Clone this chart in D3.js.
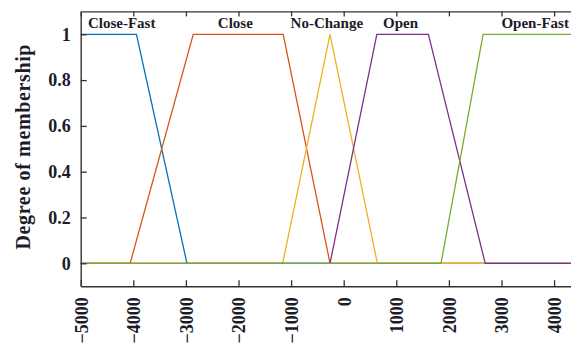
<!DOCTYPE html>
<html>
<head>
<meta charset="utf-8">
<script src="https://cdn.jsdelivr.net/npm/d3@7"></script>
<style>
  body { margin: 0; background: #fff; }
  text { font-family: "Liberation Serif", "DejaVu Serif", serif; font-weight: bold; fill: #1c1c28; }
</style>
</head>
<body>
<div class="chart"></div>
<script>
// membership functions (breakpoints along the x axis)
const names = ["Close-Fast", "Close", "No-Change", "Open", "Open-Fast"];
const closeFast = [[-5000, 1], [-3940, 1], [-2980, 0], [5000, 0]];
const close = [[-5000, 0], [-4060, 0], [-2860, 1], [-1150, 1], [-260, 0], [5000, 0]];
const noChange = [[-5000, 0], [-1160, 0], [-260, 1], [640, 0], [5000, 0]];
const open = [[-5000, 0], [-260, 0], [630, 1], [1610, 1], [2690, 0], [5000, 0]];
const openFast = [[-5000, 0], [1850, 0], [2650, 1], [5000, 1]];
const series = [closeFast, close, noChange, open, openFast];
const colors = ["#0072BD", "#D95319", "#EDB120", "#7E2F8E", "#77AC30"];
// where the name of each set is written (x in data units)
const labelAt = [-4220, -2060, -320, 1080, 3640];
const xTicks = [-5000, -4000, -3000, -2000, -1000, 0, 1000, 2000, 3000, 4000];
const yTicks = [0, 0.2, 0.4, 0.6, 0.8, 1];

const W = 571, H = 347;
const svg = d3.select(".chart").append("svg")
  .attr("width", W).attr("height", H);

const x = d3.scaleLinear().domain([-5000, 5000]).range([80.7, 606.7]);
const y = d3.scaleLinear().domain([-0.1, 1.1]).range([286.2, 11.4]);

svg.append("clipPath").attr("id", "plot")
  .append("rect")
  .attr("x", x(-5000)).attr("y", y(1.1))
  .attr("width", x(5000) - x(-5000)).attr("height", y(-0.1) - y(1.1));

// curves
const line = d3.line().x(d => x(d[0])).y(d => y(d[1]));
svg.append("g").attr("clip-path", "url(#plot)")
  .selectAll("path")
  .data(series)
  .enter()
  .append("path")
  .attr("d", line)
  .attr("fill", "none")
  .attr("stroke", (d, i) => colors[i])
  .attr("stroke-width", 1.3);

// axes
const axisColor = "#333";
const fmt = d3.format("~g");

const gx = svg.append("g")
  .attr("transform", "translate(0," + y(-0.1) + ")")
  .call(d3.axisBottom(x).tickValues(xTicks).tickSizeInner(-6).tickSizeOuter(0).tickPadding(11).tickFormat(fmt));
gx.selectAll("text")
  .attr("transform", "rotate(-90)")
  .attr("text-anchor", "end")
  .attr("x", -11)
  .attr("y", 0)
  .attr("dy", "0.35em")
  .style("font-size", "18px");

const gtop = svg.append("g")
  .attr("transform", "translate(0," + y(1.1) + ")")
  .call(d3.axisTop(x).tickValues(xTicks).tickSizeInner(-5).tickSizeOuter(0).tickFormat(""));

const gy = svg.append("g")
  .attr("transform", "translate(" + x(-5000) + ",0)")
  .call(d3.axisLeft(y).tickValues(yTicks).tickSizeInner(-6).tickSizeOuter(0).tickPadding(10).tickFormat(fmt));
gy.selectAll("text").style("font-size", "18px");

[gx, gtop, gy].forEach(g => {
  g.select(".domain").attr("stroke", axisColor).attr("stroke-width", 1.4);
  g.selectAll(".tick line").attr("stroke", axisColor).attr("stroke-width", 1.3);
  g.selectAll("text").style("font-family", null).style("fill", "#1c1c28");
});

// y axis title
svg.append("text")
  .attr("transform", "translate(30," + 147 + ") rotate(-90)")
  .attr("text-anchor", "middle")
  .attr("textLength", 205)
  .attr("lengthAdjust", "spacing")
  .style("font-size", "20px")
  .text("Degree of membership");

// set names
svg.append("g")
  .selectAll("text")
  .data(names)
  .enter()
  .append("text")
  .attr("x", (d, i) => x(labelAt[i]))
  .attr("y", 28)
  .attr("text-anchor", "middle")
  .style("font-size", "15px")
  .text(d => d);
</script>
</body>
</html>
